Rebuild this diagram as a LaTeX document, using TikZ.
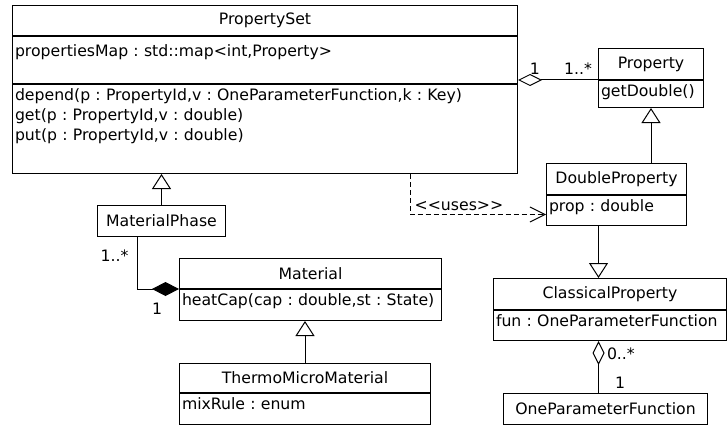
\documentclass[tikz,border=0pt]{standalone}
\usepackage{fontspec}
\setmainfont{DejaVu Sans}[Ligatures=TeXOff]
\usepackage{tikz}
\usetikzlibrary{arrows.meta, positioning}
\frenchspacing

\begin{document}
\begin{tikzpicture}[
  x=1pt, y=-1pt,
  line width=1pt,
  font=\fontsize{15.7pt}{20pt}\selectfont,
  cname/.style={draw, anchor=north west, inner sep=0pt, minimum height=31pt},
  cpart/.style={draw, align=left, inner xsep=2.5pt, inner ysep=3pt, text height=12.5pt},
  gen/.style={-{Triangle[open, length=15pt, width=19pt]}},
  aggr/.style={-{Diamond[open, length=24pt, width=12pt]}},
  comp/.style={-{Diamond[length=27pt, width=14pt]}},
  uses/.style={dash pattern=on 5pt off 3pt, -{Straight Barb[length=15pt, width=15pt]}},
  mult/.style={inner sep=2pt},
]
\useasboundingbox (0,0) rectangle (727,425);

% PropertySet
\node[cname, minimum width=505pt, minimum height=30pt] (psname) at (12,5) {PropertySet};
\node[cpart, below=0pt of psname, text width=500pt, text height=17pt, text depth=24pt] (psattr) {propertiesMap : std::map<int,Property>};
\node[cpart, below=0pt of psattr, text width=500pt, text height=13pt, text depth=70pt] (psops)
  {depend(p : PropertyId,v : OneParameterFunction,k : Key)\\get(p : PropertyId,v : double)\\put(p : PropertyId,v : double)};

% Property
\node[cname, minimum width=105pt] (propname) at (598,48) {Property};
\node[cpart, below=0pt of propname, text width=100pt, text depth=8.5pt] (propops) {getDouble()};

% DoubleProperty
\node[cname, minimum width=140pt] (dpname) at (546,163) {DoubleProperty};
\node[cpart, below=0pt of dpname, text width=135pt, text depth=11.5pt] (dpattr) {prop : double};

% MaterialPhase
\node[cname, minimum width=128pt] (mp) at (97,205) {MaterialPhase};

% Material
\node[cname, minimum width=262pt, minimum height=30pt] (matname) at (179,258) {Material};
\node[cpart, below=0pt of matname, text width=257pt, text depth=12.5pt] (matops) {heatCap(cap : double,st : State)};

% ThermoMicroMaterial
\node[cname, minimum width=251pt, minimum height=29pt] (tmmname) at (179,363) {ThermoMicroMaterial};
\node[cpart, below=0pt of tmmname, text width=246pt, text depth=12.5pt] (tmmattr) {mixRule : enum};

% ClassicalProperty
\node[cname, minimum width=233pt] (cpname) at (493,278) {ClassicalProperty};
\node[cpart, below=0pt of cpname, text width=228pt, text depth=11.5pt] (cpattr) {fun : OneParameterFunction};

% OneParameterFunction
\node[cname, minimum width=204pt] (opf) at (503,393) {OneParameterFunction};

% Relations
\draw[aggr] (propname.south west) -- (propname.south west -| psname.east)
  node[mult, pos=0.79, above=3pt] {1}
  node[mult, pos=0.25, above=3pt] {1..*};
\draw[gen] (dpname.north -| propops.south) -- (propops.south);
\draw[uses] ([xshift=145pt]psops.south) |- ([yshift=-4pt]dpattr.west)
  node[mult, pos=0.68, above=1pt] {<<uses>>};
\draw[gen] (mp.north) -- (mp.north |- psops.south);
\draw[comp] ([xshift=40pt]mp.south west) |- (matname.south west)
  node[mult, pos=0.18, left=6pt] {1..*}
  node[mult, pos=0.74, below=12pt] {1};
\draw[gen] (tmmname.north) -- (tmmname.north |- matops.south);
\draw[gen] ([xshift=-18pt]dpattr.south) -- ([xshift=-18pt]dpattr.south |- cpname.north);
\draw[aggr] ([xshift=-7pt]opf.north) -- ([xshift=-7pt]opf.north |- cpattr.south)
  node[mult, pos=0.76, right=6pt] {0..*}
  node[mult, pos=0.19, right=14pt] {1};

\end{tikzpicture}
\end{document}
